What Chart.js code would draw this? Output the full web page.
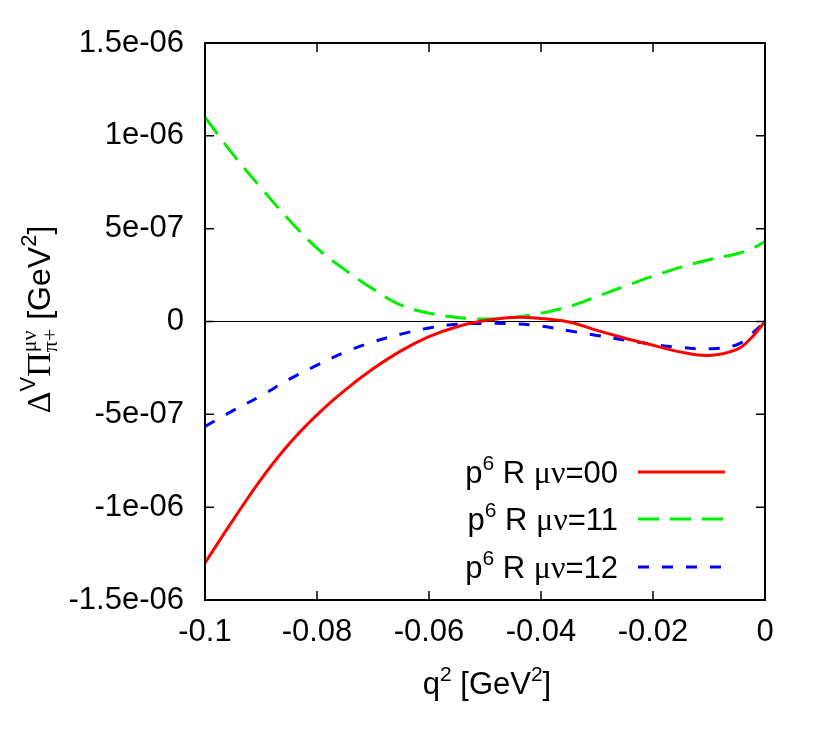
<!DOCTYPE html>
<html>
<head>
<meta charset="utf-8">
<script src="https://cdn.jsdelivr.net/npm/chart.js@4.4.1/dist/chart.umd.min.js"></script>
<style>
html, body { margin: 0; padding: 0; background: #fff; }
</style>
</head>
<body>
<canvas id="myChart" width="822" height="743"></canvas>
<script>
// q^2 in GeV^2
var q2 = [-0.1, -0.095, -0.09, -0.085, -0.08, -0.075, -0.07, -0.065, -0.06, -0.055, -0.05,
          -0.045, -0.04, -0.035, -0.03, -0.025, -0.02, -0.015, -0.01, -0.005, -0.0025, 0];
// Delta Pi, mu nu = 00
var pi00 = [-1.30e-6, -1.07e-6, -0.85e-6, -0.66e-6, -0.503e-6, -0.37e-6, -0.255e-6, -0.158e-6, -0.082e-6, -0.028e-6, 0.005e-6,
            0.022e-6, 0.016e-6, -0.003e-6, -0.048e-6, -0.09e-6, -0.128e-6, -0.165e-6, -0.183e-6, -0.15e-6, -0.09e-6, 0];
// mu nu = 11
var pi11 = [1.10e-6, 0.90e-6, 0.72e-6, 0.548e-6, 0.395e-6, 0.278e-6, 0.175e-6, 0.088e-6, 0.045e-6, 0.022e-6, 0.013e-6,
            0.022e-6, 0.045e-6, 0.08e-6, 0.135e-6, 0.19e-6, 0.244e-6, 0.293e-6, 0.333e-6, 0.365e-6, 0.39e-6, 0.43e-6];
// mu nu = 12
var pi12 = [-0.565e-6, -0.48e-6, -0.40e-6, -0.312e-6, -0.235e-6, -0.165e-6, -0.11e-6, -0.068e-6, -0.035e-6, -0.015e-6, -0.01e-6,
            -0.012e-6, -0.025e-6, -0.05e-6, -0.075e-6, -0.10e-6, -0.123e-6, -0.14e-6, -0.147e-6, -0.125e-6, -0.07e-6, 0];

var seriesNames = ['00', '11', '12'];
var xTicks = [-0.1, -0.08, -0.06, -0.04, -0.02, 0];
var xTickLabels = ['-0.1', '-0.08', '-0.06', '-0.04', '-0.02', '0'];
var yTicks = [-1.5e-6, -1e-6, -5e-7, 0, 5e-7, 1e-6, 1.5e-6];
var yTickLabels = ['-1.5e-06', '-1e-06', '-5e-07', '0', '5e-07', '1e-06', '1.5e-06'];

var SANS = '"Liberation Sans", Arial, sans-serif';
var SERIF = '"Liberation Serif", "Times New Roman", serif';

function toPoints(ys) {
    return q2.map(function (x, i) { return { x: x, y: ys[i] }; });
}

function richWidth(ctx, parts) {
    var w = 0;
    parts.forEach(function (p) {
        ctx.font = p.f;
        w += (p.adv === 0) ? 0 : ctx.measureText(p.t).width;
    });
    return w;
}

function drawRich(ctx, parts, x, y) {
    parts.forEach(function (p) {
        ctx.font = p.f;
        ctx.fillText(p.t, x, y + (p.dy || 0));
        if (p.adv !== 0) x += ctx.measureText(p.t).width;
    });
}

var frameAndText = {
    id: 'frameAndText',
    beforeDatasetsDraw: function (chart) {
        var ctx = chart.ctx, a = chart.chartArea;
        var y0 = chart.scales.y.getPixelForValue(0);
        ctx.save();
        ctx.strokeStyle = '#000';
        ctx.lineWidth = 1.2;
        ctx.beginPath();
        ctx.moveTo(a.left, y0);
        ctx.lineTo(a.right, y0);
        ctx.stroke();
        ctx.restore();
    },
    afterDraw: function (chart) {
        var ctx = chart.ctx, a = chart.chartArea;
        var xs = chart.scales.x, ys = chart.scales.y;
        var tl = 9;
        ctx.save();
        ctx.strokeStyle = '#000';
        ctx.lineWidth = 2;
        ctx.strokeRect(a.left, a.top, a.right - a.left, a.bottom - a.top);
        ctx.lineWidth = 1.5;
        ctx.beginPath();
        xTicks.forEach(function (v) {
            var px = xs.getPixelForValue(v);
            ctx.moveTo(px, a.bottom); ctx.lineTo(px, a.bottom - tl);
            ctx.moveTo(px, a.top); ctx.lineTo(px, a.top + tl);
        });
        yTicks.forEach(function (v) {
            var py = ys.getPixelForValue(v);
            ctx.moveTo(a.left, py); ctx.lineTo(a.left + tl, py);
            ctx.moveTo(a.right, py); ctx.lineTo(a.right - tl, py);
        });
        ctx.stroke();

        ctx.fillStyle = '#000';
        ctx.textBaseline = 'alphabetic';
        ctx.textAlign = 'left';

        // legend
        var rowY = [472, 519, 567];
        chart.data.datasets.forEach(function (ds, i) {
            var parts = [
                { t: 'p', f: '31px ' + SANS },
                { t: '6', f: '21px ' + SANS, dy: -13 },
                { t: ' R ', f: '31px ' + SANS },
                { t: 'μν', f: '32px ' + SERIF },
                { t: '=' + seriesNames[i], f: '31px ' + SANS }
            ];
            var w = richWidth(ctx, parts);
            drawRich(ctx, parts, 618 - w, rowY[i] + 11);
            ctx.strokeStyle = ds.borderColor;
            ctx.lineWidth = ds.borderWidth;
            ctx.setLineDash(ds.borderDash || []);
            ctx.beginPath();
            ctx.moveTo(638, rowY[i]);
            ctx.lineTo(725, rowY[i]);
            ctx.stroke();
            ctx.setLineDash([]);
        });

        // x title
        var xt = [
            { t: 'q', f: '31px ' + SANS },
            { t: '2', f: '21px ' + SANS, dy: -13 },
            { t: ' [GeV', f: '31px ' + SANS },
            { t: '2', f: '21px ' + SANS, dy: -13 },
            { t: ']', f: '31px ' + SANS }
        ];
        var xw = richWidth(ctx, xt);
        drawRich(ctx, xt, (a.left + a.right) / 2 + 2 - xw / 2, 694);

        // y title
        var yt = [
            { t: 'Δ', f: '34px ' + SERIF },
            { t: 'V', f: '22px ' + SANS, dy: -15 },
            { t: 'Π', f: '34px ' + SERIF },
            { t: 'μν', f: '22px ' + SERIF, dy: -14, adv: 0 },
            { t: 'π+', f: '22px ' + SERIF, dy: 7 },
            { t: ' [GeV', f: '32px ' + SANS },
            { t: '2', f: '22px ' + SANS, dy: -14 },
            { t: ']', f: '32px ' + SANS }
        ];
        var yw = richWidth(ctx, yt);
        ctx.translate(50, (a.top + a.bottom) / 2 - 2);
        ctx.rotate(-Math.PI / 2);
        drawRich(ctx, yt, -yw / 2, 0);
        ctx.restore();
    }
};

new Chart('myChart', {
    type: 'line',
    data: {
        datasets: [{
            label: 'p6 R μν=00',
            data: toPoints(pi00),
            borderColor: '#ff0000',
            borderWidth: 3,
            pointRadius: 0,
            tension: 0.4
        }, {
            label: 'p6 R μν=11',
            data: toPoints(pi11),
            borderColor: '#00ee00',
            borderWidth: 3,
            borderDash: [21, 11],
            pointRadius: 0,
            tension: 0.4
        }, {
            label: 'p6 R μν=12',
            data: toPoints(pi12),
            borderColor: '#0000ff',
            borderWidth: 3,
            borderDash: [11, 13],
            pointRadius: 0,
            tension: 0.4
        }]
    },
    options: {
        responsive: false,
        animation: false,
        layout: {
            padding: { left: 0, top: 43, right: 57, bottom: 0 }
        },
        plugins: {
            legend: { display: false },
            title: { display: false },
            tooltip: { enabled: false }
        },
        scales: {
            x: {
                type: 'linear',
                min: -0.1,
                max: 0,
                afterBuildTicks: function (s) { s.ticks = xTicks.map(function (v) { return { value: v }; }); },
                afterFit: function (s) { s.height = 143; },
                grid: { display: false, drawTicks: false },
                border: { display: false },
                ticks: {
                    color: '#000',
                    padding: 14,
                    maxRotation: 0,
                    autoSkip: false,
                    font: { family: SANS, size: 31 },
                    callback: function (v, i) { return xTickLabels[i]; }
                }
            },
            y: {
                type: 'linear',
                min: -1.5e-6,
                max: 1.5e-6,
                afterBuildTicks: function (s) { s.ticks = yTicks.map(function (v) { return { value: v }; }); },
                afterFit: function (s) { s.width = 205; },
                grid: { display: false, drawTicks: false },
                border: { display: false },
                ticks: {
                    color: '#000',
                    padding: 21,
                    autoSkip: false,
                    font: { family: SANS, size: 31 },
                    callback: function (v, i) { return yTickLabels[i]; }
                }
            }
        }
    },
    plugins: [frameAndText]
});
</script>
</body>
</html>
